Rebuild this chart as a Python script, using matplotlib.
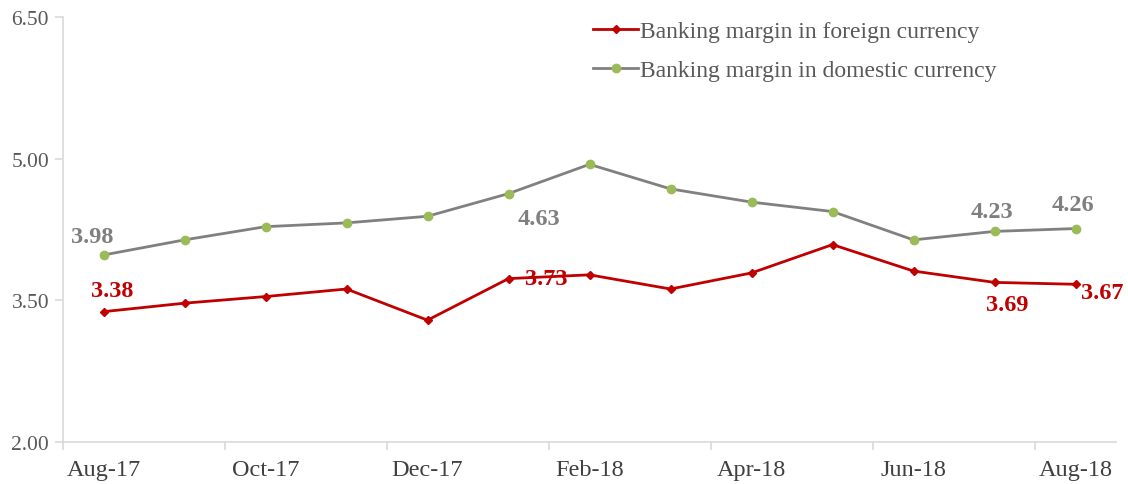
import numpy as np
import matplotlib.pyplot as plt

months = ['Aug-17', 'Sep-17', 'Oct-17', 'Nov-17', 'Dec-17', 'Jan-18', 'Feb-18',
          'Mar-18', 'Apr-18', 'May-18', 'Jun-18', 'Jul-18', 'Aug-18']
foreign = [3.38, 3.47, 3.54, 3.62, 3.29, 3.73, 3.77, 3.62, 3.79, 4.09, 3.81, 3.69, 3.67]
domestic = [3.98, 4.14, 4.28, 4.32, 4.39, 4.63, 4.94, 4.68, 4.54, 4.44, 4.14, 4.23, 4.26]

# etiquetas mostradas: indice -> desplazamiento (puntos)
lab_foreign = {0: (6, 15), 5: (27, 0), 11: (9, -16), 12: (19, -6)}
lab_domestic = {0: (-8, 13), 5: (22, -18), 11: (-2, 14), 12: (-1.5, 17)}

plt.rcParams['font.family'] = ['Liberation Serif', 'DejaVu Serif']

red = '#c00000'
grey = '#7f7f7f'
olive = '#9bbb59'

fig = plt.figure(figsize=(11.28, 4.85), dpi=100)
ax = fig.add_axes([63/1128, 1-443/485, (1116-63)/1128, (443-18)/485])

x = np.arange(len(months))
ax.plot(x, foreign, color=red, lw=2, marker='D', ms=4.5, mfc=red, mec=red,
        label='Banking margin in foreign currency')
ax.plot(x, domestic, color='#808080', lw=2, marker='o', ms=6, mfc=olive, mec=olive,
        label='Banking margin in domestic currency')

for i, off in lab_foreign.items():
    ax.annotate(f'{foreign[i]:.2f}', (x[i], foreign[i]), xytext=off,
                textcoords='offset points', ha='center', va='center',
                fontsize=17.5, fontweight='bold', color=red)
for i, off in lab_domestic.items():
    ax.annotate(f'{domestic[i]:.2f}', (x[i], domestic[i]), xytext=off,
                textcoords='offset points', ha='center', va='center',
                fontsize=17.5, fontweight='bold', color=grey)

ax.set_xlim(-0.5, len(months) - 0.5)
ax.set_ylim(2.0, 6.5)
ax.set_yticks([2.0, 3.5, 5.0, 6.5])
ax.set_yticklabels(['2.00', '3.50', '5.00', '6.50'])
ax.set_xticks(x[::2])
ax.set_xticklabels(months[::2])
ax.set_xticks(np.arange(-0.5, len(months), 2), minor=True)
ax.tick_params(axis='x', which='major', length=0, pad=12, labelsize=17.5, labelcolor='#404040')
ax.tick_params(axis='x', which='minor', length=6, color='#d9d9d9', width=1.2)
ax.tick_params(axis='y', length=6, color='#d9d9d9', width=1.2, labelsize=15.5,
               labelcolor='#595959', pad=4)

for s in ['top', 'right']:
    ax.spines[s].set_visible(False)
for s in ['left', 'bottom']:
    ax.spines[s].set_color('#d9d9d9')
    ax.spines[s].set_linewidth(1.2)

leg = ax.legend(loc='upper left', bbox_to_anchor=(572/1128, 1-0/485),
                bbox_transform=fig.transFigure, frameon=False, fontsize=17,
                handlelength=1.9, handletextpad=0.1, labelspacing=0.75)
for t in leg.get_texts():
    t.set_color('#595959')

fig.savefig('out.png', dpi=100)
